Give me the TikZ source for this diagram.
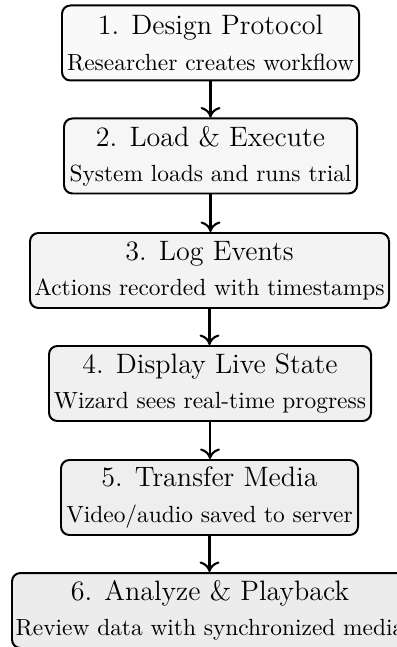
\documentclass[tikz,border=0pt]{standalone}
\usetikzlibrary{arrows.meta}
\begin{document}
\begin{tikzpicture}[x=0.4274pt,y=-0.4274pt,
  stepbox/.style={draw=black, line width=0.85pt, rounded corners=3.6pt, inner sep=0pt,
    align=center, minimum height=75*0.4274pt},
  flow/.style={line width=0.9pt, -{To[length=4.5pt,width=8.5pt,line width=0.9pt]}}]
\useasboundingbox (0,0) rectangle (397,647);
\clip (0,0) rectangle (397,647);
\node[stepbox, fill=gray!5, minimum width=297*0.4274pt] (b1) at (210.5,43)
  {{\large 1. Design Protocol}\\[3pt] Researcher creates workflow};
\node[stepbox, fill=gray!7, minimum width=293*0.4274pt] (b2) at (210.5,156)
  {{\large 2. Load \& Execute}\\[3pt] System loads and runs trial};
\node[stepbox, fill=gray!9.5, minimum width=359*0.4274pt] (b3) at (209.5,270.5)
  {{\large 3. Log Events}\\[3pt] Actions recorded with timestamps};
\node[stepbox, fill=gray!11.5, minimum width=322*0.4274pt] (b4) at (210,383.5)
  {{\large 4. Display Live State}\\[3pt] Wizard sees real-time progress};
\node[stepbox, fill=gray!13.5, minimum width=297*0.4274pt] (b5) at (209.5,497.5)
  {{\large 5. Transfer Media}\\[3pt] Video/audio saved to server};
\node[stepbox, fill=gray!15, minimum width=396*0.4274pt] (b6) at (210,610.5)
  {{\large 6. Analyze \& Playback}\\[3pt] Review data with synchronized media};
\draw[flow] (b1.south) -- (b1.south |- b2.north);
\draw[flow] (b2.south) -- (b2.south |- b3.north);
\draw[flow] (b3.south) -- (b3.south |- b4.north);
\draw[flow] (b4.south) -- (b4.south |- b5.north);
\draw[flow] (b5.south) -- (b5.south |- b6.north);
\end{tikzpicture}
\end{document}
